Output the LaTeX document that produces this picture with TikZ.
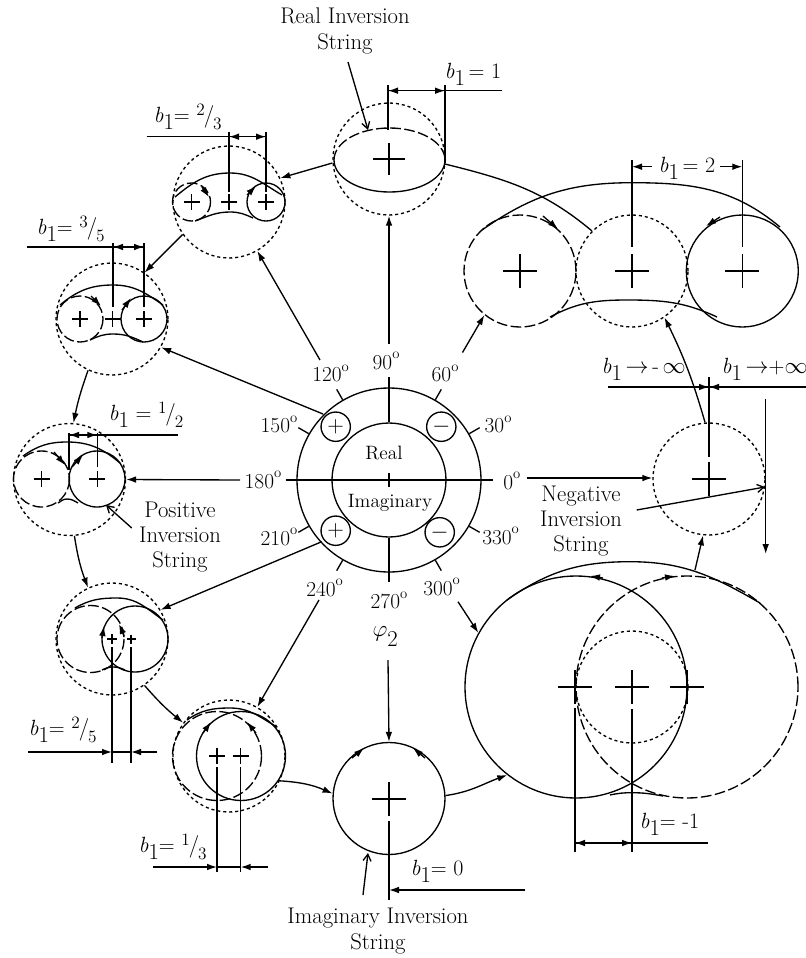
\documentclass[tikz,border=0pt]{standalone}
\usepackage{amsmath}
\usetikzlibrary{arrows.meta}
\newcommand{\bone}{\textit{b}\raisebox{-.75ex}{\fontsize{17}{17}\selectfont 1}}
\newcommand{\degmark}{\raisebox{1.15ex}{\fontsize{11}{11}\selectfont o}}
\newcommand{\slfrac}[2]{\raisebox{.7ex}{\fontsize{13}{13}\selectfont #1}\kern-.05em{\fontsize{17}{17}\selectfont /}\kern-.05em\raisebox{-.8ex}{\fontsize{13}{13}\selectfont #2}}

\begin{document}
\begin{tikzpicture}[
		x=0.75pt, y=-0.75pt,
		line width=1pt,
		font=\fontsize{16}{18}\selectfont,
		arrow/.style={-{Latex[length=7.5pt,width=5pt]}},
		openarrow/.style={-{Straight Barb[length=5pt,width=6pt]}},
		dotline/.style={dash pattern=on 2.3pt off 2.2pt},
		dashline/.style={dash pattern=on 8pt off 2.6pt},
		ringnode/.style={draw, circle, minimum size=84pt, inner sep=0pt},
		dotring/.style={ringnode, dotline},
		signring/.style={draw, circle, minimum size=22pt, inner sep=0pt, font=\fontsize{18}{18}\selectfont},
		deglabel/.style={anchor=base west, inner sep=0pt},
		blabel/.style={anchor=base west, inner sep=0pt, font=\fontsize{16.5}{18}\selectfont},
		txt/.style={align=center, inner sep=0pt, font=\fontsize{17}{19}\selectfont},
		hubtxt/.style={txt, font=\fontsize{14.5}{16}\selectfont}
	]
		\useasboundingbox (0,0) rectangle (806,958);
		% hub
		\node[ringnode, minimum size=138pt] (hub) at (389,480) {};
		\node[ringnode, minimum size=85.5pt] (hubin) at (389,480) {};
		\node[signring] (plusup) at (335.7,426.7) {$+$};
		\node[signring] (minusup) at (441.3,426.7) {$-$};
		\node[signring] (pluslow) at (335.7,530.7) {$+$};
		\node[signring] (minuslow) at (439.7,532.3) {$-$};
		\node[hubtxt] (realtxt) at (384,453) {Real};
		\node[hubtxt] (imagtxt) at (390,503) {Imaginary};
		\draw (286,480) -- (492.7,480);
		\draw (389,473) -- (389,487);
		\draw (hubin.north) -- (389,376.7);
		\draw (hubin.south) -- (389,582);
		\foreach \ang in {30,60,120,150,210,240,300,330}
			\draw (hub.\ang) -- ++(-\ang:12);
		\foreach \ang/\x/\y in {90/372/369.3, 120/311.7/381.7, 60/431/381.7, 150/260/432.7, 30/484/432.7,
				180/244/488, 0/502.7/489, 210/260/545, 330/481.7/544, 240/305.7/596, 300/422.7/595.3, 270/370/608.7}
			\node[deglabel] (lab\ang) at (\x,\y) {\ang\degmark};
		\node[deglabel, font=\fontsize{17}{18}\selectfont] (phitwo) at (372,636) {$\varphi$\raisebox{-1.1ex}{2}};

		% circles round the hub
		\node[dotring] (sone) at (389,159) {};
		\node[dotring] (stwothird) at (229,202) {};
		\node[dotring] (sthreefifth) at (112,319) {};
		\node[dotring] (shalf) at (69.5,479.5) {};
		\node[dotring] (stwofifth) at (112,639) {};
		\node[dotring] (sthird) at (229,756) {};
		\node[ringnode] (szero) at (389,798.5) {};
		\node[dotring] (sminus) at (632,687) {};
		\node[dotring] (sinf) at (709,479) {};
		\node[dotring] (stwo) at (632,271) {};

		% b1 = 1
		\draw[dashline] (334,160) arc[start angle=180, end angle=360, x radius=55.5, y radius=32];
		\draw (334,160) arc[start angle=180, end angle=0, x radius=55.5, y radius=32];
		% b1 = 2
		\node[ringnode, dashline] (twoleft) at (520,271) {};
		\node[ringnode] (tworight) at (742.3,271) {};
		\draw (482,230) to[out=35,in=180] (632,182.7) to[out=0,in=140] (780,227);
		\draw (550,317) to[out=28,in=180] (627,300) to[out=0,in=155] (717,317);
		% b1 = 2/3
		\draw[dashline] (191.5,202) circle[radius=19];
		\draw (266,202) circle[radius=19];
		\draw (175,197) to[out=40,in=180] (230,173) to[out=0,in=150] (282,195);
		\draw (195,221) to[out=20,in=180] (230,212) to[out=0,in=155] (253,218);
		% b1 = 3/5
		\draw[dashline] (80,319) circle[radius=23];
		\draw (144,319) circle[radius=23];
		\draw (60,305) to[out=40,in=180] (113,285) to[out=0,in=145] (163,305);
		\draw (90,340) to[out=25,in=180] (113,334) to[out=0,in=155] (143,342);
		% b1 = 1/2
		\draw[dashline] (41.5,479) circle[radius=28];
		\draw (97,479) circle[radius=28];
		\draw (23,456) to[out=35,in=180] (67,442) to[out=0,in=140] (120,463);
		\draw (58,503) to[out=30,in=180] (67,499) to[out=0,in=150] (78,503);
		% b1 = 2/5
		\draw[dashline] (90.5,639) circle[radius=33.5];
		\draw (135,639) circle[radius=33];
		\draw (75,608) to[out=30,in=180] (117,598) to[out=0,in=145] (163,620);
		\draw (102,670) to[out=25,in=180] (113,667) to[out=0,in=155] (125,670);
		% b1 = 1/3
		\draw[dashline] (217,756) circle[radius=44.5];
		\draw (241,756) circle[radius=44.5];
		\draw (187,720) to[out=35,in=180] (230,708) to[out=0,in=150] (277,727);
		% b1 = -1
		\node[ringnode, minimum size=166.5pt] (minusleft) at (576,687) {};
		\node[ringnode, dashline, minimum size=166.5pt] (minusright) at (687,687) {};
		\draw (507,600) to[out=35,in=180] (630,561.7) to[out=0,in=150] (760,603);
		\draw (610,795) to[out=12,in=180] (632,792.7) to[out=0,in=170] (663,796);

		% plus marks
		\foreach \x/\y/\r in {389/159/16, 191.7/202/8, 229/202/8, 266/202/8, 80/319/8, 112.7/319/8, 144/319/8,
				41.7/479/8, 97.3/479/8, 112/639/5, 131/639/4.5, 217/756/8, 240.7/756/8, 389/799/17,
				575/687/17, 632/687/17, 687/687/17, 709/479/17, 520/271/17, 632/271/17, 742.3/271/17}
			\draw (\x-\r,\y) -- (\x+\r,\y) (\x,\y-\r) -- (\x,\y+\r);
		% arrow heads on the orbits
		\foreach \ax/\ay/\bx/\by in {202/187/209/197, 247/195/256/186, 91/296/101/306, 122/310/131/298,
				54/452/65/465, 72/467/83/455, 102/638/104/626, 124/636/119/624, 203/733/211/722, 256/733/247/722,
				352/758/364/748, 425/758/413/748, 603/578/590/576, 662/578/675/576, 543/216/558/229, 720/217/706/226}
			\draw[arrow] (\ax,\ay) -- (\bx,\by);

		% connectors from the hub
		\coordinate (tail90) at (389,344);
		\coordinate (tail120) at (320,360);
		\coordinate (tail60) at (462.5,352.5);
		\coordinate (tail150) at (323,414);
		\coordinate (tail180) at (240,480);
		\coordinate (tail0) at (526.7,478);
		\coordinate (tail210) at (321.7,541.7);
		\coordinate (tail240) at (319,600);
		\coordinate (tail300) at (458,601.7);
		\coordinate (tailphi) at (388,660);
		\coordinate (tailbig) at (695,570);
		\draw[arrow] (tail90) -- (sone.south);
		\draw[arrow] (tail120) -- (stwothird.-60);
		\draw[arrow] (tail60) -- (twoleft.-129);
		\draw[arrow] (tail150) -- (sthreefifth.-30);
		\draw[arrow] (tail180) -- (shalf.east);
		\draw[arrow] (tail0) -- (sinf.west |- tail0);
		\draw[arrow] (tail210) -- (stwofifth.31);
		\draw[arrow] (tail240) -- (sthird.60);
		\draw[arrow] (tail300) -- (minusleft.151);
		\draw[arrow] (tailphi) -- (szero.north);

		% connectors round the ring
		\draw[arrow] (sone.180) ++(0,4) -- (stwothird.25);
		\draw[arrow] (stwothird.-145) -- (sthreefifth.55);
		\draw[arrow] (sthreefifth.-115) to[bend right=4] (shalf.86);
		\draw[arrow] (shalf.-85) to[bend right=6] (stwofifth.115);
		\draw[arrow] (stwofifth.-55) to[bend right=5] (sthird.144);
		\draw[arrow] (sthird.-26) to[bend left=10] (szero.175);
		\draw[arrow] (szero.3) to[out=8,in=-160] (minusleft.-128);
		\draw[arrow] (tailbig) -- (sinf.-96);
		\draw[arrow] (sinf.94) to[bend right=5] (stwo.-55);
		\draw (445,164) to[out=-14,in=140] (stwo.135);

		% b1 = 1
		\draw (388,85) -- (388,130) (445,85) -- (445,163);
		\draw (388,90.7) -- (501.7,90.7);
		\draw[arrow] (398,90.7) -- (388,90.7);
		\draw[arrow] (435,90.7) -- (445,90.7);
		\node[blabel] (bonelab) at (444,78) {\bone\,= 1};
		% b1 = 2
		\draw (632,160) -- (632,246.7) (742.3,160) -- (742.3,246.7);
		\draw[arrow] (651.7,166.7) -- (632,166.7);
		\draw[arrow] (720,166.7) -- (742.3,166.7);
		\node[blabel] (btwolab) at (658,172) {\bone\,= 2};
		% b1 = 2/3
		\draw (229,131.7) -- (229,192) (266,131.7) -- (266,192);
		\draw (146.7,136.7) -- (266,136.7);
		\draw[arrow] (240,136.7) -- (229,136.7);
		\draw[arrow] (255,136.7) -- (266,136.7);
		\node[blabel] (btwothirdlab) at (153,122) {\bone= \slfrac{2}{3}};
		% b1 = 3/5
		\draw (113,243) -- (113,307) (144,243) -- (144,307);
		\draw (27,247) -- (144,247);
		\draw[arrow] (124,247) -- (113,247);
		\draw[arrow] (133,247) -- (144,247);
		\node[blabel] (bthreefifthlab) at (36,234) {\bone= \slfrac{3}{5}};
		% b1 = 1/2
		\draw (69,433) -- (69,470) (97.3,433) -- (97.3,467);
		\draw (69,435) -- (178,435);
		\draw[arrow] (80,435) -- (69,435);
		\draw[arrow] (87,435) -- (97.3,435);
		\node[blabel] (bhalflab) at (108,420) {\bone\ = \slfrac{1}{2}};
		% b1 = 2/5
		\draw (112,647) -- (112,763) (131,647) -- (131,763);
		\draw[arrow] (28,752) -- (112,752);
		\draw[arrow] (157,752) -- (131,752);
		\draw (112,752) -- (131,752);
		\node[blabel] (btwofifthlab) at (28,735) {\bone= \slfrac{2}{5}};
		% b1 = 1/3
		\draw (217,767) -- (217,872) (240.7,767) -- (240.7,872);
		\draw[arrow] (153,867) -- (217,867);
		\draw[arrow] (268,867) -- (240.7,867);
		\draw (217,867) -- (240.7,867);
		\node[blabel] (bthirdlab) at (138,852) {\bone= \slfrac{1}{3}};
		% b1 = 0
		\draw (389,821) -- (389,900);
		\draw[arrow] (525,890) -- (389,890);
		\node[blabel] (bzerolab) at (410,875) {\bone= 0};
		% b1 = -1
		\draw (575,670) -- (575,700) (575,708) -- (575,852);
		\draw (632,671) -- (632,703) (632,709) -- (632,852);
		\draw (575,843) -- (708,843);
		\draw[arrow] (587,843) -- (575,843);
		\draw[arrow] (620,843) -- (632,843);
		\node[blabel] (bminuslab) at (639,828) {\bone= -1};
		% b1 to infinity
		\draw (709,377) -- (709,457);
		\draw (608,387) -- (806,387);
		\draw[arrow] (696,387) -- (709,387);
		\draw[arrow] (722,387) -- (709,387);
		\draw[arrow] (765.7,399) -- (765.7,554);
		\node[blabel] (bneglab) at (601,373) {\bone\,$\rightarrow$\,-\,$\infty$};
		\node[blabel] (bposlab) at (721,373) {\bone\,$\rightarrow$+$\infty$};

		% inversion strings
		\node[txt] (realstr) at (345,31) {Real Inversion\\String};
		\node[txt] (posstr) at (180,537) {Positive\\Inversion\\String};
		\node[txt] (negstr) at (581,521) {Negative\\Inversion\\String};
		\node[txt] (imagstr) at (378,931) {Imaginary Inversion\\String};
		\coordinate (tailreal) at (348,62);
		\coordinate (tailpos) at (131.7,528);
		\coordinate (tailneg) at (636.7,510);
		\coordinate (tailimag) at (363,895);
		\draw[openarrow] (tailreal) -- (368,130);
		\draw[openarrow] (tailpos) -- (106,505);
		\draw[openarrow] (tailneg) -- (765,487);
		\draw[openarrow] (tailimag) -- (368,853);
	\end{tikzpicture}
\end{document}
